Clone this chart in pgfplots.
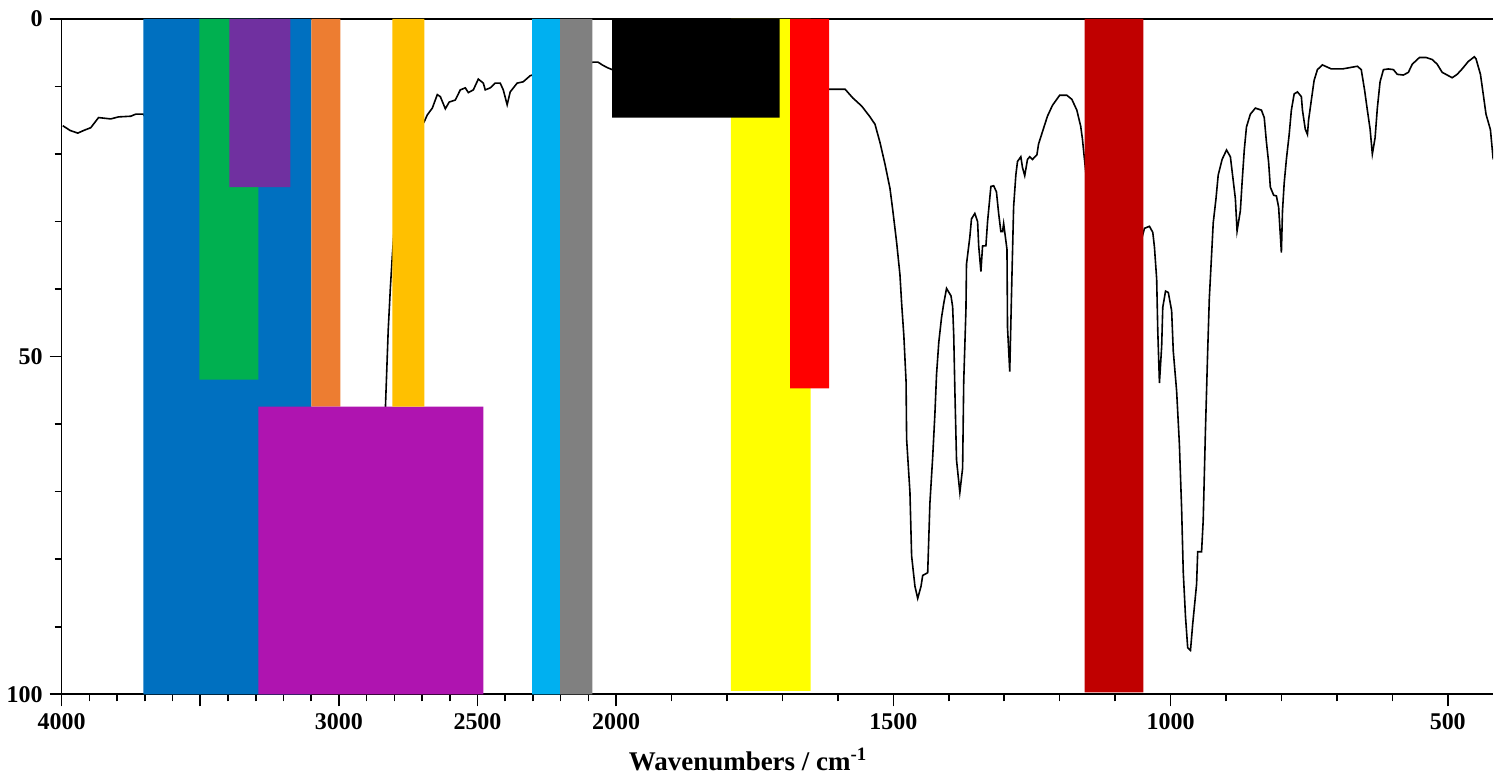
\documentclass[border=0pt]{standalone}
\usepackage{fontspec}
\setmainfont{Liberation Serif}
\usepackage{pgfplots}
\pgfplotsset{compat=1.18}
\definecolor{cblue}{HTML}{0070C0}
\definecolor{cgreen}{HTML}{00B050}
\definecolor{cpurple}{HTML}{7030A0}
\definecolor{corange}{HTML}{ED7D31}
\definecolor{cmagenta}{HTML}{AF14B0}
\definecolor{cgold}{HTML}{FFC000}
\definecolor{clblue}{HTML}{00B0F0}
\definecolor{cgray}{HTML}{808080}
\definecolor{cyellow}{HTML}{FFFF00}
\definecolor{cred}{HTML}{FF0000}
\definecolor{cdred}{HTML}{C00000}
\begin{document}
\begin{tikzpicture}
\begin{axis}[
  scale only axis, width=716.5pt, height=338pt,
  x coord trafo/.code={\pgfmathparse{#1<2000 ? 2+(2000-#1)/500 : (4000-#1)/1000}},
  xmin=4000, xmax=418,
  ymin=0, ymax=100, y dir=reverse,
  axis x line*=box, axis y line*=left,
  axis line style={-, line width=0.8pt},
  xtick={4000,3500,3000,2500,2000,1500,1000,500},
  xticklabels={4000,,3000,2500,2000,1500,1000,500},
  minor xtick={3900,3800,3700,3600,3400,3300,3200,3100,2900,2800,2700,2600,2400,2300,2200,2100,1900,1800,1700,1600,1400,1300,1200,1100,900,800,700,600},
  ytick={0,50,100}, yticklabels={0,50,100},
  minor ytick={10,20,30,40,60,70,80,90},
  xtick pos=bottom, ytick pos=left,
  tick align=outside,
  major tick length=6pt, minor tick length=3.5pt,
  every tick/.style={black, line width=0.8pt},
  tick label style={font=\bfseries\fontsize{12}{14}\selectfont},
  xlabel={Wavenumbers / cm\textsuperscript{-1}},
  xlabel style={font=\bfseries\fontsize{13.5}{16}\selectfont, at={(axis description cs:0.4795,0)}, anchor=center, yshift=-32.5pt},
  clip=true,
]
\addplot[black, line width=0.8pt] coordinates {
(3996,15.8) (3970,16.5) (3942,16.9) (3920,16.5) (3895,16.1) (3867,14.6) (3823,14.8) (3795,14.5) (3751,14.4) (3733,14.1) (3705,14.1)
(3650,18) (3550,35) (3400,55) (3250,65) (3100,75) (3000,88) (2950,92) (2920,88) (2880,85) (2850,75)
(2832,57.4) (2822,46.0) (2814,39.6) (2807,34.9) (2790,25) (2740,18) (2692,15.2) (2681,14.2) (2663,13.2) (2645,11.2) (2634,11.5) (2616,13.3) (2602,12.3) (2580,12.0) (2562,10.5) (2544,10.2) (2533,10.9) (2515,10.5) (2497,8.9) (2479,9.5) (2472,10.5) (2454,10.2) (2436,9.5) (2418,9.5) (2407,10.5) (2393,12.7) (2382,10.8) (2357,9.5) (2335,9.3) (2310,8.4)
(2250,7.6) (2150,6.8) (2100,6.5) (2083,6.4) (2065,6.4) (2050,6.8) (2032,7.2) (2014,7.5)
(1950,8) (1850,9) (1800,9.5) (1750,25) (1720,55) (1700,35) (1670,12) (1640,10.5)
(1614,10.4) (1587,10.4) (1573,11.7) (1557,12.9) (1542,14.5) (1533,15.6) (1524,18.3) (1515,21.5) (1506,25.1) (1501,28.3) (1494,33.1) (1488,37.9) (1485,42.1) (1481,46.9) (1477,53.7) (1476,62.2) (1470,70.1) (1467,79.5) (1461,84.0) (1456,85.8) (1450,84.0) (1447,82.4) (1438,82.0) (1434,71.7) (1429,64.9) (1425,58.5) (1422,52.6) (1418,47.9) (1413,44.2) (1409,42.1) (1404,39.9) (1396,41.0) (1393,42.6) (1391,46.9) (1389,54.9) (1386,65.3) (1380,70.1) (1375,66.5) (1373,53.7) (1369,43.0) (1368,36.3) (1362,32.3) (1359,29.6) (1353,28.8) (1348,30.0) (1346,33.6) (1342,37.4) (1339,33.6) (1333,33.6) (1330,30.0) (1324,24.8) (1319,24.7) (1314,25.6) (1310,28.8) (1306,31.5) (1303,31.5) (1301,30.3) (1295,34.1) (1294,45.7) (1290,52.2) (1286,37.9) (1283,27.8) (1279,23.1) (1276,21.1) (1270,20.4) (1267,22.0) (1263,23.2) (1258,20.8) (1254,20.4) (1249,20.8) (1241,20.1) (1238,18.5) (1231,16.7) (1222,14.4) (1213,12.8) (1200,11.3) (1187,11.3) (1178,11.9) (1169,13.5) (1162,15.9) (1159,17.7)
(1150,25) (1120,50) (1100,60) (1080,45) (1060,35)
(1047,31.0) (1038,30.7) (1032,31.6) (1029,33.8) (1025,38.5) (1023,46.2) (1020,53.9) (1016,48.5) (1014,42.7) (1009,40.3) (1004,40.5) (998,43.2) (995,49.2) (989,55.1) (984,62.9) (980,72.5) (977,81.9) (973,88.5) (969,93.1) (964,93.5) (960,89.6) (953,83.7) (951,78.9) (944,78.9) (941,74.2) (937,61.0) (933,49.2) (930,41.4) (926,35.0) (923,30.2) (918,26.6) (914,23.1) (907,20.8) (899,19.4) (892,20.4) (889,22.5) (883,26.6) (880,31.4) (874,28.4) (871,24.3) (867,19.4) (863,16.0) (856,14.1) (847,13.2) (836,13.5) (831,14.6) (827,18.2) (823,21.3) (820,24.9) (814,26.1) (809,26.2) (805,27.9) (800,34.6) (798,28.4) (795,24.3) (791,20.8) (786,17.1) (782,13.5) (777,11.1) (771,10.8) (764,11.5) (762,13.5) (757,16.3) (753,17.1) (751,15.0) (746,12.0) (741,9.1) (735,7.5) (726,6.8) (710,7.4) (690,7.4) (663,7.0) (656,7.5) (650,10.5) (645,13.5) (640,16.3) (636,20.0) (631,17.6) (627,13.2) (622,9.3) (616,7.5) (607,7.4) (598,7.5) (591,8.2) (580,8.3) (571,7.9) (564,6.7) (551,5.7) (539,5.7) (528,6.0) (519,6.7) (510,7.9) (501,8.3) (492,8.7) (483,8.2) (474,7.4) (463,6.3) (452,5.6) (449,5.9) (441,8.2) (436,11.1) (431,14.1) (423,16.4) (418,20.8)
};
% coloured boxes
\addplot[fill=cblue, draw=none] coordinates {(3705,0) (3099,0) (3099,100) (3705,100) (3705,0)};
\addplot[fill=cgreen, draw=none] coordinates {(3503,0) (3290,0) (3290,53.4) (3503,53.4) (3503,0)};
\addplot[fill=cpurple, draw=none] coordinates {(3395,0) (3175,0) (3175,24.9) (3395,24.9) (3395,0)};
\addplot[fill=corange, draw=none] coordinates {(3099,0) (2995,0) (2995,57.4) (3099,57.4) (3099,0)};
\addplot[fill=cmagenta, draw=none] coordinates {(3290,57.4) (2479,57.4) (2479,100) (3290,100) (3290,57.4)};
\addplot[fill=cgold, draw=none] coordinates {(2807,0) (2692,0) (2692,57.4) (2807,57.4) (2807,0)};
\addplot[fill=clblue, draw=none] coordinates {(2303,0) (2202,0) (2202,100) (2303,100) (2303,0)};
\addplot[fill=cgray, draw=none] coordinates {(2202,0) (2086,0) (2086,100) (2202,100) (2202,0)};
\addplot[fill=cyellow, draw=none] coordinates {(1793,0) (1649,0) (1649,99.5) (1793,99.5) (1793,0)};
\addplot[fill=black, draw=none] coordinates {(2014,0) (1705,0) (1705,14.6) (2014,14.6) (2014,0)};
\addplot[fill=cred, draw=none] coordinates {(1686,0) (1616,0) (1616,54.7) (1686,54.7) (1686,0)};
\addplot[fill=cdred, draw=none] coordinates {(1155,0) (1049,0) (1049,99.7) (1155,99.7) (1155,0)};
\end{axis}
\path ([xshift=-30.5pt,yshift=-40pt]current axis.south west) rectangle ([yshift=9.5pt]current axis.north east);
\end{tikzpicture}
\end{document}
